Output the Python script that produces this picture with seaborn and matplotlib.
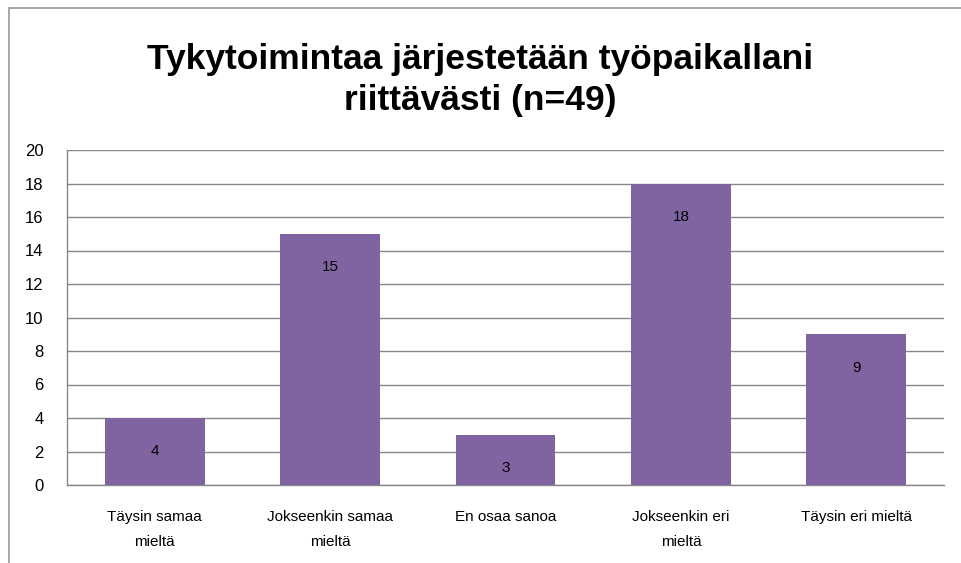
import matplotlib.pyplot as plt
import seaborn as sns
import pandas as pd
from matplotlib.patches import Rectangle

# -----------------------------
# Data
# -----------------------------
categories = ["Täysin samaa\nmieltä", "Jokseenkin samaa\nmieltä", "En osaa sanoa",
              "Jokseenkin eri\nmieltä", "Täysin eri mieltä"]
counts = [4, 15, 3, 18, 9]
yticks = list(range(0, 21, 2))

df = pd.DataFrame({"vastaus": categories, "lkm": counts})

# -----------------------------
# Style
# -----------------------------
sns.set_style("white")
plt.rcParams["font.family"] = ["Liberation Sans", "DejaVu Sans"]

fig = plt.figure(figsize=(9.61, 5.63), dpi=100)
ax = fig.add_axes([67 / 961, 1 - 485 / 563, 877 / 961, 335 / 563])

sns.barplot(data=df, x="vastaus", y="lkm", color="#8064A2", width=0.57,
            saturation=1, edgecolor="none", linewidth=0, ax=ax, zorder=3)

ax.set_ylim(0, 20)
ax.set_yticks(yticks)
ax.set_xlim(-0.5, 4.5)
ax.yaxis.grid(True, color="#888888", linewidth=1, zorder=0)
ax.set_axisbelow(True)
ax.set_xlabel("")
ax.set_ylabel("")

for side in ["top", "right"]:
    ax.spines[side].set_visible(False)
for side in ["left", "bottom"]:
    ax.spines[side].set_color("#888888")
    ax.spines[side].set_linewidth(1)

ax.tick_params(axis="y", length=0, labelsize=12, pad=17, labelcolor="black")
ax.tick_params(axis="x", length=0, labelsize=11, pad=18, labelcolor="black")

for lbl in ax.get_xticklabels():
    lbl.set_linespacing(2.0)

# value labels inside the bars
ax.bar_label(ax.containers[0], labels=[str(v) for v in counts],
             padding=-29, fontsize=11, color="black")

fig.text(0.5, 1 - 80 / 563,
         "Tykytoimintaa järjestetään työpaikallani\nriittävästi (n=49)",
         ha="center", va="center", fontsize=25.5, fontweight="bold",
         linespacing=1.3, color="black")

# outer chart border
fig.patches.append(Rectangle((9 / 961, -0.1), 1.2, 1 - 8 / 563 + 0.1,
                             transform=fig.transFigure, fill=False,
                             edgecolor="#999999", linewidth=1.2))

plt.savefig("out.png", dpi=100)
plt.close()
